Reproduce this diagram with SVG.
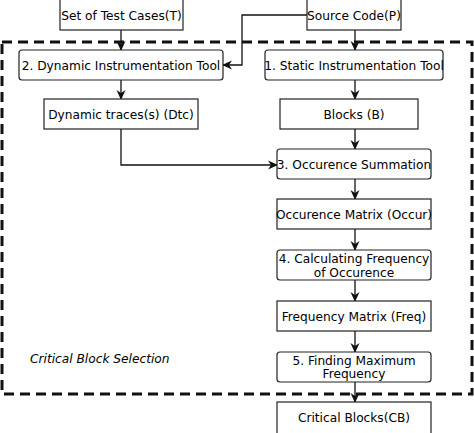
<svg xmlns="http://www.w3.org/2000/svg" width="474" height="433" viewBox="0 0 474 433">
<style>
.b{fill:#fff;stroke:#222;stroke-width:1.2}
.t{font-family:"DejaVu Sans",sans-serif;font-size:12.2px;fill:#000;text-anchor:middle}
.c{fill:none;stroke:#111;stroke-width:1.3}
</style>
<defs>
<marker id="a" viewBox="0 0 10 10" refX="9" refY="5" markerWidth="10" markerHeight="10" markerUnits="userSpaceOnUse" orient="auto">
<path d="M0,0.5 L10,5 L0,9.5 L3,5 Z" fill="#111"/>
</marker>
</defs>
<rect x="2" y="42" width="470" height="352" fill="none" stroke="#111" stroke-width="3" stroke-dasharray="10,6"/>
<text x="30" y="363" style="font-family:'DejaVu Sans',sans-serif;font-size:12.2px;font-style:italic">Critical Block Selection</text>
<g id="connectors">
<path class="c" d="M121,30 V50" marker-end="url(#a)"/>
<path class="c" d="M307,15 H242 V65 H223" marker-end="url(#a)"/>
<path class="c" d="M355,30 V50" marker-end="url(#a)"/>
<path class="c" d="M121,80 V99" marker-end="url(#a)"/>
<path class="c" d="M355,80 V99" marker-end="url(#a)"/>
<path class="c" d="M121,129 V165 H277" marker-end="url(#a)"/>
<path class="c" d="M355,129 V149" marker-end="url(#a)"/>
<path class="c" d="M355,179 V199" marker-end="url(#a)"/>
<path class="c" d="M355,229 V250" marker-end="url(#a)"/>
<path class="c" d="M355,280 V301" marker-end="url(#a)"/>
<path class="c" d="M355,331 V352" marker-end="url(#a)"/>
<path class="c" d="M355,382 V402" marker-end="url(#a)"/>
</g>
<g id="testcases"><rect class="b" x="60" y="-2" width="123" height="32"/><text class="t" x="121.5" y="19.5">Set of Test Cases(T)</text></g>
<g id="source"><rect class="b" x="307" y="-2" width="94" height="32"/><text class="t" x="354" y="19.5">Source Code(P)</text></g>
<g id="dyntool"><rect class="b" x="19" y="50" width="204" height="30" rx="3"/><text class="t" x="121" y="69.5">2. Dynamic Instrumentation Tool</text></g>
<g id="stattool"><rect class="b" x="265" y="50" width="178" height="30" rx="3"/><text class="t" x="354" y="69.5">1. Static Instrumentation Tool</text></g>
<g id="dyntraces"><rect class="b" x="44" y="99" width="154" height="30"/><text class="t" x="121" y="118.5">Dynamic traces(s) (Dtc)</text></g>
<g id="blocks"><rect class="b" x="280" y="99" width="138" height="30"/><text class="t" x="354" y="118.5">Blocks (B)</text></g>
<g id="occsum"><rect class="b" x="277" y="149" width="154" height="30" rx="3"/><text class="t" x="354" y="168.5">3. Occurence Summation</text></g>
<g id="occmat"><rect class="b" x="277" y="199" width="154" height="30"/><text class="t" x="354" y="218.5">Occurence Matrix (Occur)</text></g>
<g id="calcfreq"><rect class="b" x="277" y="250" width="154" height="30" rx="3"/><text class="t" x="354" y="262.5">4. Calculating Frequency</text><text class="t" x="354" y="276.5">of Occurence</text></g>
<g id="freqmat"><rect class="b" x="277" y="301" width="154" height="30"/><text class="t" x="354" y="320.5">Frequency Matrix (Freq)</text></g>
<g id="findmax"><rect class="b" x="277" y="352" width="154" height="30" rx="3"/><text class="t" x="354" y="364.5">5. Finding Maximum</text><text class="t" x="354" y="378">Frequency</text></g>
<g id="critical"><rect class="b" x="277" y="402" width="154" height="32"/><text class="t" x="354" y="422">Critical Blocks(CB)</text></g>
</svg>
